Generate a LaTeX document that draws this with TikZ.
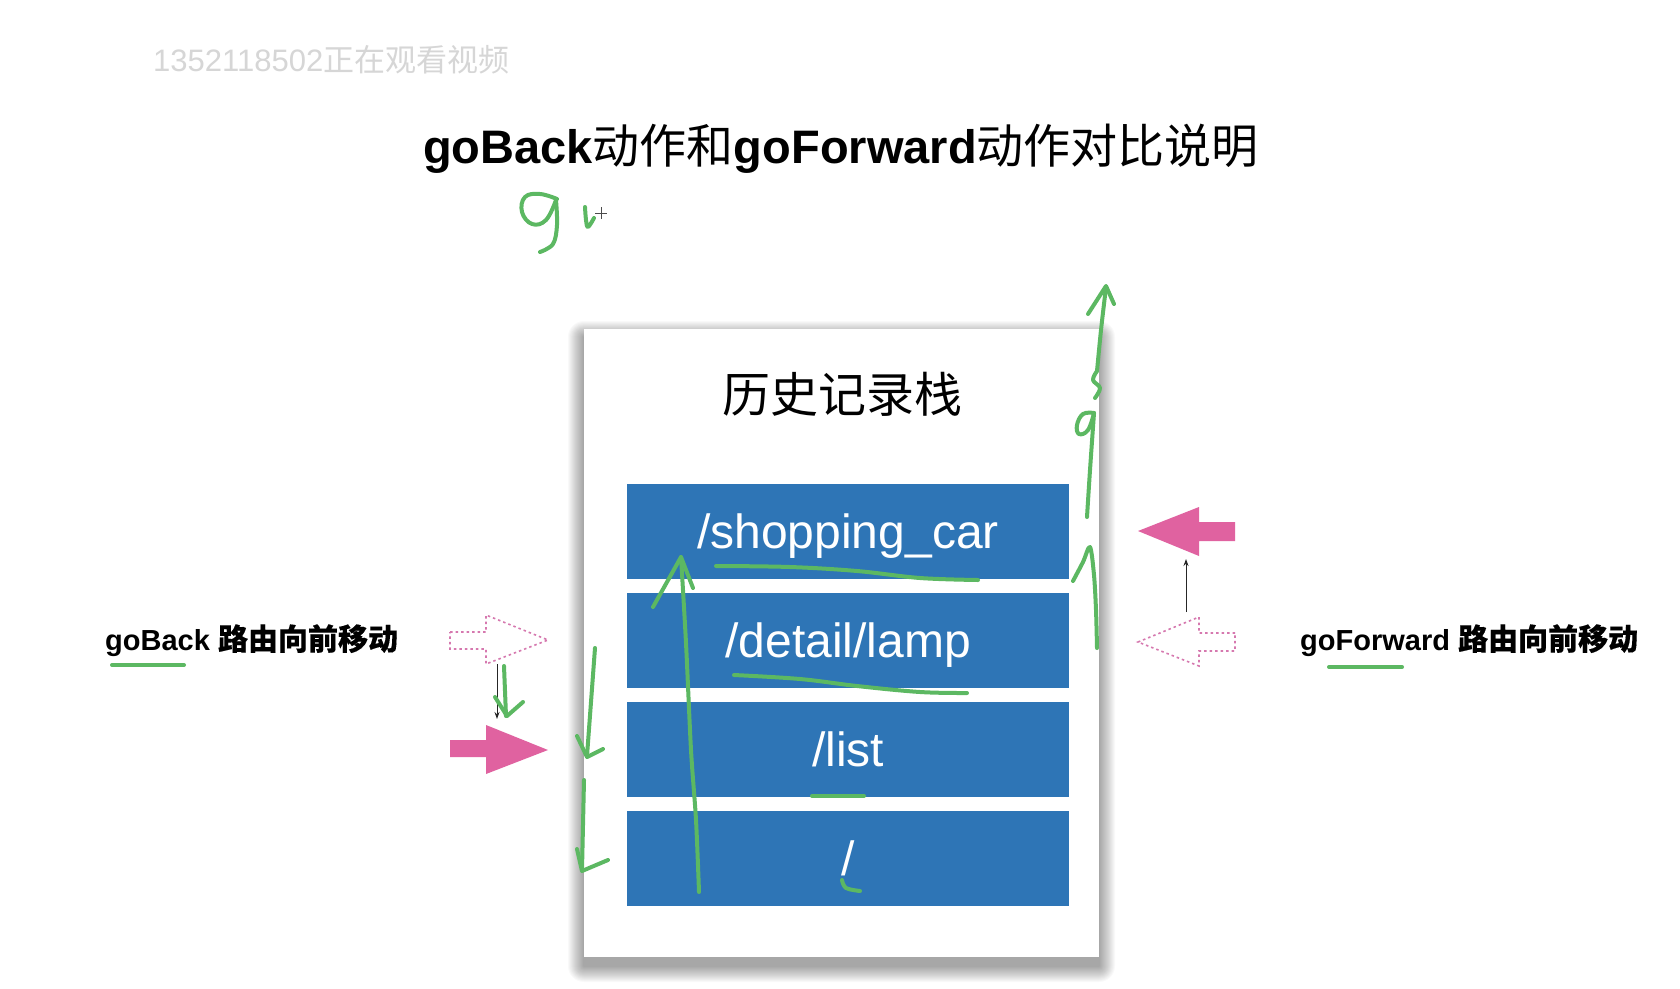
\documentclass[tikz,border=0pt]{standalone}
\usepackage{fontspec}
\setmainfont{Liberation Sans}
\newfontfamily\cjk{Noto Sans CJK SC}
\newfontfamily\cjkb[FakeBold=0.3]{Noto Sans CJK SC}
\usetikzlibrary{arrows.meta}
\definecolor{boxblue}{RGB}{46,117,182}
\definecolor{arrowpink}{RGB}{224,98,160}
\definecolor{dotpink}{RGB}{214,120,175}
\definecolor{inkgreen}{RGB}{92,184,98}
\begin{document}
\begin{tikzpicture}[x=1pt,y=-1pt,
  panelbox/.style={draw=none,fill=white,minimum width=515pt,minimum height=628pt,inner sep=0pt},
  stackbox/.style={fill=boxblue,draw=none,minimum width=442pt,minimum height=95pt,inner sep=0pt,
    text=white,font=\fontsize{48}{58}\selectfont,text height=34.4pt,text depth=0pt},
  pinkfill/.style={fill=arrowpink,draw=none},
  pinkdots/.style={draw=dotpink,dash pattern=on 2.5pt off 3pt,line width=1.6pt},
  blackarrow/.style={draw=black!85,line width=1pt,-{Stealth[length=7pt,width=5pt]}},
  ink/.style={draw=inkgreen,line width=4pt,line cap=round,line join=round},
  label/.style={anchor=base west,inner sep=0pt,font=\fontsize{29}{34}\selectfont\bfseries},
]
\useasboundingbox[fill=white] (0,0) rectangle (1680,988);

% watermark
\node[anchor=base west,inner sep=0pt,text=gray!32,font=\fontsize{31}{36}\selectfont] (wm) at (153,71) {1352118502{\cjk 正在观看视频}};

% title
\node[anchor=base,inner sep=0pt,font=\fontsize{47}{56}\selectfont] (title) at (841,163)
  {\bfseries goBack{\mdseries\cjk 动作和}goForward{\mdseries\cjk 动作对比说明}};

% panel shadow
\foreach \i in {1,...,16}
  \fill[black,opacity=0.024,rounded corners=\i pt] (584-\i,337-\i) rectangle (1099+\i,966+\i);
% panel
\node[panelbox] (panel) at (841.5,643) {};
\node[anchor=base,inner sep=0pt,font=\fontsize{48}{58}\selectfont\cjk] (ptitle) at (842,412) {历史记录栈};

\node[stackbox] (b1) at (848,531.5) {/shopping\_car};
\node[stackbox] (b2) at (848,640.5) {/detail/lamp};
\node[stackbox] (b3) at (848,749.5) {/list};
\node[stackbox] (b4) at (848,858) {/};

% side labels
\node[label] (lback) at (105,650) {goBack {\cjkb\fontsize{30}{34}\selectfont 路由向前移动}};
\node[label] (lfwd) at (1300,650) {goForward {\cjkb\fontsize{30}{34}\selectfont 路由向前移动}};

% left arrows
\draw[pinkdots] (450,632) -- (486,632) -- (486,615) -- (548,640) coordinate (ldtip) -- (486,664) -- (486,649) -- (450,649) -- cycle;
\fill[pinkfill] (450,740) -- (486,740) -- (486,725) -- (548,750) coordinate (lptip) -- (486,774) -- (486,757) -- (450,757) -- cycle;
\coordinate (lfrom) at (497,664);
\coordinate (lto) at (497,719);
\draw[blackarrow] (lfrom) -- (lto);

% right arrows
\fill[pinkfill] (1235,522) -- (1199,522) -- (1199,507) -- (1138,531) coordinate (rptip) -- (1199,556) -- (1199,541) -- (1235,541) -- cycle;
\draw[pinkdots] (1235,633) -- (1199,633) -- (1199,617) -- (1138,642) coordinate (rdtip) -- (1199,666) -- (1199,651) -- (1235,651) -- cycle;
\coordinate (rfrom) at (1186,612);
\coordinate (rto) at (1186,559);
\draw[blackarrow] (rfrom) -- (rto);

% green handwriting near title
\draw[ink] plot[smooth,tension=0.7] coordinates {(557,199) (540,194) (525,197) (522,212) (532,224) (546,220) (556,200)};
\draw[ink] plot[smooth,tension=0.6] coordinates {(556,200) (557,225) (553,244) (540,252)};
\draw[ink] plot[smooth,tension=0.6] coordinates {(585,207) (586,220) (588,227) (594,218)};
\draw[black!70,line width=1pt] (595,213) -- (607,213) (601,207) -- (601,219);

% underlines of labels
\draw[ink] (112,665) -- (184,665);
\draw[ink] (1329,667) -- (1402,667);

% underlines in stack
\draw[ink] plot[smooth,tension=0.6] coordinates {(716,566) (790,567) (857,571) (920,578) (978,580)};
\draw[ink] plot[smooth,tension=0.6] coordinates {(734,675) (800,679) (857,686) (920,692) (967,693)};
\draw[ink] (812,796) -- (864,796);
\draw[ink] plot[smooth,tension=0.6] coordinates {(842,880) (846,888) (860,891)};

% big up arrow inside stack
\draw[ink] plot[smooth,tension=0.5] coordinates {(699,892) (696,820) (691,750) (686,643) (681,557)};
\draw[ink] (653,607) -- (681,557) -- (693,588);

% down arrows at left edge
\draw[ink] (595,648) -- (587,756);
\draw[ink] (577,736) -- (587,757) -- (603,749);
\draw[ink] (584,780) -- (582,870);
\draw[ink] (577,849) -- (582,871) -- (608,860);

% check near left small arrow
\draw[ink] (504,666) -- (506,716);
\draw[ink] (495,697) -- (507,716) -- (523,702);

% right big up stroke
\draw[ink] plot[smooth,tension=0.5] coordinates {(1073,581) (1083,562) (1090,547) (1094,575) (1096,610) (1097,648)};
\draw[ink] plot[smooth,tension=0.7] coordinates {(1094,413) (1083,414) (1077,425) (1079,434) (1088,430) (1094,413)};
\draw[ink] plot[smooth,tension=0.5] coordinates {(1094,413) (1090,470) (1087,517)};
\draw[ink] plot[smooth,tension=0.6] coordinates {(1095,398) (1100,388) (1093,380) (1097,371)};
\draw[ink] plot[smooth,tension=0.5] coordinates {(1097,371) (1101,330) (1106,287)};
\draw[ink] (1088,314) -- (1106,286) -- (1114,304);
\end{tikzpicture}
\end{document}
